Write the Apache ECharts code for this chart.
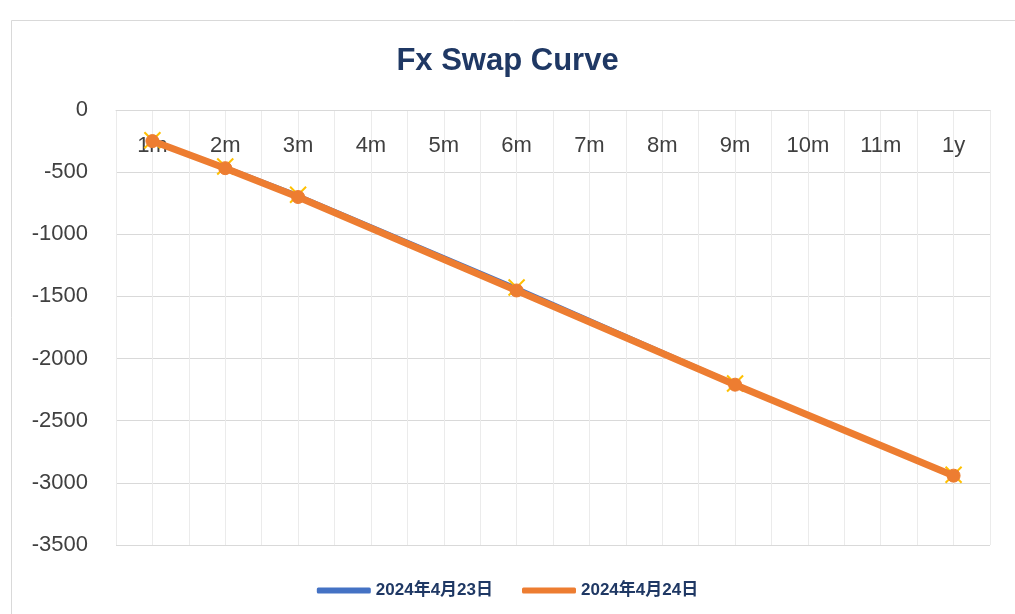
<!DOCTYPE html>
<html><head>
<meta charset="utf-8">
<title>Fx Swap Curve</title>
<script src="https://cdn.jsdelivr.net/npm/echarts@6/dist/echarts.min.js"></script>
<style>
html,body{margin:0;padding:0;background:#fff;}
#main{width:1015px;height:614px;}
</style>
</head>
<body>
<div id="main"></div>
<script type="text/javascript">
// 数据
var tenors = ['1m','2m','3m','4m','5m','6m','7m','8m','9m','10m','11m','1y'];
var swap0423 = [-243, -455, -682, null, null, -1428, null, null, -2200, null, null, -2935];
var swap0424 = [-250, -468, -700, null, null, -1452, null, null, -2210, null, null, -2942];
var seriesNames = ['2024年4月23日', '2024年4月24日'];

// 次网格用的空类目（每个期限两格）
var halfSlots = [];
for (var i = 0; i < tenors.length * 2; i++) halfSlots.push('');

var myChart = echarts.init(document.getElementById('main'));

var option = {
    backgroundColor: '#fff',
    animation: false,
    title: {
        text: 'Fx Swap Curve',
        left: 'center',
        top: 41,
        textStyle: {
            color: '#1F3864',
            fontSize: 31,
            fontWeight: 'bold',
            fontFamily: 'Liberation Sans, Arial, sans-serif'
        }
    },
    graphic: [{
        type: 'rect',
        shape: {x: 11.5, y: 20.5, width: 1020, height: 620},
        style: {fill: 'none', stroke: '#D9D9D9', lineWidth: 1},
        silent: true
    }],
    legend: {
        bottom: 10,
        left: 'center',
        itemWidth: 54,
        itemHeight: 6,
        itemGap: 29,
        icon: 'roundRect',
        data: [
            {name: seriesNames[0], itemStyle: {color: '#4472C4', borderWidth: 0}},
            {name: seriesNames[1], itemStyle: {color: '#ED7D31', borderWidth: 0}}
        ],
        textStyle: {
            color: '#1F3864',
            fontSize: 17,
            fontWeight: 'bold',
            fontFamily: 'Liberation Sans, Noto Sans CJK SC, sans-serif'
        }
    },
    grid: {
        left: 116,
        right: 25,
        top: 110,
        bottom: 69
    },
    xAxis: [{
        type: 'category',
        data: tenors,
        boundaryGap: true,
        position: 'top',
        axisLine: {onZero: false, lineStyle: {color: '#D9D9D9', width: 1}},
        axisTick: {show: false},
        splitLine: {show: false},
        axisLabel: {
            inside: true,
            margin: 25,
            color: '#404040',
            fontSize: 22,
            fontFamily: 'Liberation Sans, Arial, sans-serif'
        }
    }, {
        type: 'category',
        data: halfSlots,
        boundaryGap: true,
        position: 'bottom',
        axisLine: {show: false},
        axisTick: {show: false},
        axisLabel: {show: false},
        splitLine: {show: true, interval: 0, lineStyle: {color: '#EBEBEB', width: 1}}
    }],
    yAxis: {
        type: 'value',
        min: -3500,
        max: 0,
        interval: 500,
        axisLine: {show: false},
        axisTick: {show: false},
        axisLabel: {
            margin: 28,
            color: '#404040',
            fontSize: 22,
            fontFamily: 'Liberation Sans, Arial, sans-serif',
            formatter: function (v) { return String(v); }
        },
        splitLine: {lineStyle: {color: '#D9D9D9', width: 1}}
    },
    series: [{
        name: seriesNames[0],
        type: 'line',
        xAxisIndex: 0,
        data: swap0423,
        connectNulls: true,
        symbol: 'path://M0,0 L10,10 M10,0 L0,10',
        symbolSize: 16,
        itemStyle: {color: '#4472C4', borderColor: '#FFC000', borderWidth: 2},
        lineStyle: {color: '#4472C4', width: 3},
        z: 2
    }, {
        name: seriesNames[1],
        type: 'line',
        xAxisIndex: 0,
        data: swap0424,
        connectNulls: true,
        symbol: 'circle',
        symbolSize: 13,
        itemStyle: {color: '#ED7D31', borderColor: '#ED7D31'},
        lineStyle: {color: '#ED7D31', width: 7},
        z: 3
    }]
};

myChart.setOption(option);
</script>
</body>
</html>
